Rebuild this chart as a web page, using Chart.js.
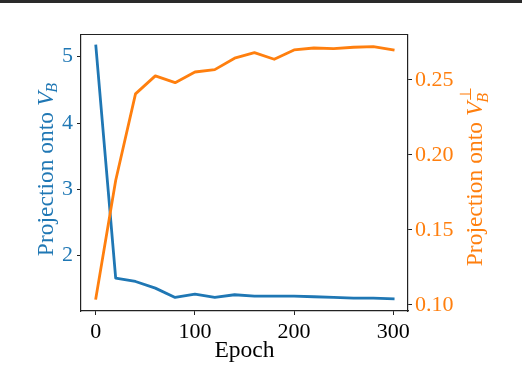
<!DOCTYPE html>
<html>
<head>
<meta charset="utf-8">
<script src="https://cdn.jsdelivr.net/npm/chart.js@4"></script>
<style>
  html, body { margin: 0; padding: 0; background: #fff; }
  #wrap { position: relative; width: 522px; height: 366px; }
  #topline { position: absolute; left: 0; top: 0; width: 522px; height: 3px; background: #2a2a2a; }
</style>
</head>
<body>
<div id="wrap">
  <canvas id="projChart" width="522" height="366"></canvas>
  <div id="topline"></div>
</div>
<script>
// values
const epochs = [0, 20, 40, 60, 80, 100, 120, 140, 160, 180, 200, 220, 240, 260, 280, 300];
const projB = [5.16, 1.66, 1.61, 1.51, 1.37, 1.42, 1.37, 1.41, 1.39, 1.39, 1.39, 1.38, 1.37, 1.36, 1.36, 1.35];
const projPerp = [0.1045, 0.183, 0.2407, 0.2527, 0.2482, 0.2553, 0.2569, 0.2645, 0.2682, 0.2638, 0.2700, 0.2713, 0.2709, 0.2718, 0.2722, 0.2700];

const xTicks = [0, 100, 200, 300];
const yTicks = [2, 3, 4, 5];
const y1Ticks = [0.10, 0.15, 0.20, 0.25];
const y1Labels = ['0.10', '0.15', '0.20', '0.25'];

const xTitle = 'Epoch';
const leftTitle = ['Projection onto ', 'V', 'B'];
const rightTitle = ['Projection onto ', 'V', 'B', '\u22A5'];

const BLUE = '#1f77b4', ORANGE = '#ff7f0e', INK = '#222';
const SERIF = '"Liberation Serif", "Times New Roman", serif';
const TICK_SIZE = 22, TITLE_SIZE = 23.5, SCRIPT_SIZE = 16;

// axis titles with italic V and sub/superscripts, drawn rotated
function drawRotTitle(ctx, bx, cy, color, parts, subDy) {
  const big = TITLE_SIZE + 'px ' + SERIF, itBig = 'italic ' + TITLE_SIZE + 'px ' + SERIF,
        itSmall = 'italic ' + SCRIPT_SIZE + 'px ' + SERIF, small = SCRIPT_SIZE + 'px ' + SERIF;
  ctx.save();
  ctx.font = big; let w0 = ctx.measureText(parts[0]).width;
  ctx.font = itBig; let w1 = ctx.measureText(parts[1]).width;
  ctx.font = itSmall; let w2 = ctx.measureText(parts[2]).width;
  let w3 = 0;
  if (parts[3]) { ctx.font = small; w3 = ctx.measureText(parts[3]).width; }
  let total = w0 + w1 + Math.max(w2, w3);
  ctx.translate(bx, cy);
  ctx.rotate(-Math.PI / 2);
  ctx.fillStyle = color;
  ctx.textBaseline = 'alphabetic';
  ctx.textAlign = 'left';
  let x = -total / 2;
  ctx.font = big; ctx.fillText(parts[0], x, 0); x += w0;
  ctx.font = itBig; ctx.fillText(parts[1], x, 0); x += w1;
  ctx.font = itSmall; ctx.fillText(parts[2], x - 1, subDy);
  if (parts[3]) { ctx.font = small; ctx.fillText(parts[3], x + 1, -11); }
  ctx.restore();
}

const framePlugin = {
  id: 'frame',
  afterDraw(chart) {
    const ctx = chart.ctx, a = chart.chartArea;
    ctx.save();
    ctx.strokeStyle = INK;
    ctx.lineWidth = 1.2;
    ctx.beginPath();
    ctx.moveTo(a.left, a.top);
    ctx.lineTo(a.right, a.top);
    ctx.stroke();
    // x axis title
    ctx.fillStyle = '#000';
    ctx.font = TITLE_SIZE + 'px ' + SERIF;
    ctx.textAlign = 'center';
    ctx.textBaseline = 'alphabetic';
    ctx.fillText(xTitle, (a.left + a.right) / 2, 357);
    ctx.restore();
    drawRotTitle(ctx, 53, 169, BLUE, leftTitle, 4);
    drawRotTitle(ctx, 482, 177, ORANGE, rightTitle, 6);
  }
};

function fixTicks(list) {
  return function(axis) { axis.ticks = list.map(v => ({ value: v })); };
}

const projChart = new Chart('projChart', {
  type: 'line',
  data: {
    labels: epochs,
    datasets: [{
      label: 'V_B',
      data: epochs.map((e, i) => ({ x: e, y: projB[i] })),
      borderColor: BLUE,
      borderWidth: 2.8,
      yAxisID: 'y',
      order: 1
    }, {
      label: 'V_B perp',
      data: epochs.map((e, i) => ({ x: e, y: projPerp[i] })),
      borderColor: ORANGE,
      borderWidth: 2.8,
      yAxisID: 'y1',
      order: 0
    }]
  },
  options: {
    responsive: false,
    animation: false,
    events: [],
    layout: { padding: { top: 34.5, left: 0, right: 0, bottom: 0 } },
    elements: {
      point: { radius: 0 },
      line: { tension: 0, fill: false, borderJoinStyle: 'round', borderCapStyle: 'square' }
    },
    plugins: { legend: { display: false }, tooltip: { enabled: false } },
    scales: {
      x: {
        type: 'linear',
        min: -15, max: 315,
        afterBuildTicks: fixTicks(xTicks),
        afterFit: s => { s.height = 55; },
        grid: { drawOnChartArea: false, drawTicks: true, tickLength: 4, color: INK },
        border: { display: true, color: INK, width: 1.2 },
        ticks: { color: '#000', padding: 4, maxRotation: 0, font: { family: SERIF, size: TICK_SIZE } }
      },
      y: {
        position: 'left',
        min: 1.165, max: 5.335,
        afterBuildTicks: fixTicks(yTicks),
        afterFit: s => { s.width = 81; },
        grid: { drawOnChartArea: false, drawTicks: true, tickLength: 4, color: INK },
        border: { display: true, color: INK, width: 1.2 },
        ticks: { color: BLUE, padding: 4, font: { family: SERIF, size: TICK_SIZE } }
      },
      y1: {
        position: 'right',
        min: 0.096, max: 0.2803,
        afterBuildTicks: fixTicks(y1Ticks),
        afterFit: s => { s.width = 114; },
        grid: { drawOnChartArea: false, drawTicks: true, tickLength: 4, color: INK },
        border: { display: true, color: INK, width: 1.2 },
        ticks: {
          color: ORANGE, padding: 3, font: { family: SERIF, size: TICK_SIZE },
          callback: (v) => y1Labels[y1Ticks.findIndex(t => Math.abs(t - v) < 1e-6)]
        }
      }
    }
  },
  plugins: [framePlugin]
});
</script>
</body>
</html>
